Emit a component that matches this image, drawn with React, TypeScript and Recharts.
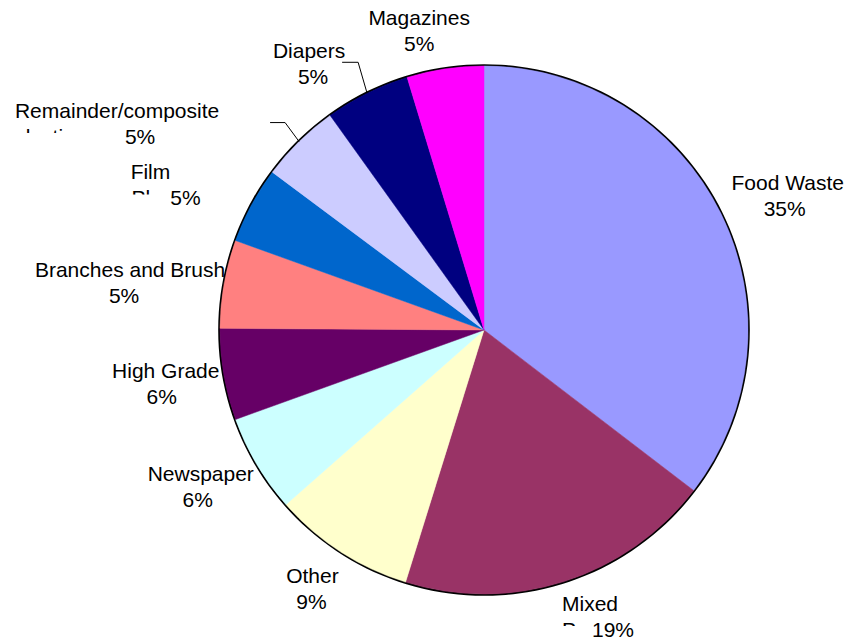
import { PieChart, Pie, Cell } from 'recharts'

const categories = [
    'Food Waste',
    'Mixed Paper',
    'Other',
    'Newspaper',
    'High Grade',
    'Branches and Brush',
    'Film Plastic',
    'Remainder/composite plastic',
    'Diapers',
    'Magazines',
]

const shares = [35.4, 19.4, 8.7, 6.0, 5.6, 5.4, 4.7, 4.9, 5.2, 4.7]

const colors = ['#9999FF', '#993366', '#FFFFCC', '#CCFFFF', '#660066', '#FF8080', '#0066CC', '#CCCCFF', '#000080', '#FF00FF']

const data = categories.map((name, i) => ({ name, value: shares[i] }))

// how each label is laid out, relative to the slice's outer edge midpoint
// first: visible first line, cut: line-2 text that shows only its top, pdx: % offset
const labelLayout = [
    { first: 'Food Waste', cut: '', dx: 67, dy: -30, pdx: -3, cdx: 0, leader: null },
    { first: 'Mixed', cut: 'P', dx: 26, dy: 22, pdx: 23, cdx: -28, leader: null },
    { first: 'Other', cut: '', dx: -28, dy: 24, pdx: -1, cdx: 0, leader: null },
    { first: 'Newspaper', cut: '', dx: -56, dy: 9, pdx: -3, cdx: 0, leader: null },
    { first: 'High Grade', cut: '', dx: -58, dy: -4, pdx: -4, cdx: 0, leader: null },
    { first: 'Branches and Brush', cut: '', dx: -94, dy: -14, pdx: -6, cdx: 0, leader: null },
    { first: 'Film', cut: 'Pl', dx: -101, dy: -33, pdx: 35, cdx: -19, leader: null },
    { first: 'Remainder/composite', cut: 'plastic', dx: -182, dy: -31, pdx: 23, cdx: -103, leader: [[-14, -19], [-29, -19]] },
    { first: 'Diapers', cut: '', dx: -58, dy: -43, pdx: 4, cdx: 0, leader: [[-9, -31], [-25, -31]] },
    { first: 'Magazines', cut: '', dx: -26, dy: -51, pdx: 0, cdx: 0, leader: null },
]

const RAD = Math.PI / 180
const FONT = '"Liberation Sans", Arial, sans-serif'
const SIZE = 21
const LINE = 26

const renderLabel = (props: any) => {
    const { cx, cy, midAngle, outerRadius, index, percent } = props
    const px = cx + outerRadius * Math.cos(-midAngle * RAD)
    const py = cy + outerRadius * Math.sin(-midAngle * RAD)
    const l = labelLayout[index]
    const x = px + l.dx
    const y = py + l.dy
    const pct = Math.round(percent * 100) + '%'
    const clipId = `cut-${index}`
    return (
        <g key={`lbl-${index}`}>
            {l.leader && (
                <polyline
                    points={[[px, py], ...l.leader.map(([a, b]) => [px + a, py + b])].map(p => p.join(',')).join(' ')}
                    fill="none"
                    stroke="#000"
                    strokeWidth={1}
                />
            )}
            <text x={x} y={y} dy="0.35em" textAnchor="middle" fontSize={SIZE} fontFamily={FONT} fill="#000">
                {l.first}
            </text>
            {l.cut && (
                <>
                    <clipPath id={clipId}>
                        <rect x={x + l.cdx - 5} y={y + LINE - 8.2} width={90} height={4.6} />
                    </clipPath>
                    <text x={x + l.cdx} y={y + LINE} dy="0.35em" textAnchor="start" fontSize={SIZE} fontFamily={FONT} fill="#000" clipPath={`url(#${clipId})`}>
                        {l.cut}
                    </text>
                </>
            )}
            <text x={x + l.pdx} y={y + LINE} dy="0.35em" textAnchor="middle" fontSize={SIZE} fontFamily={FONT} fill="#000">
                {pct}
            </text>
        </g>
    )
}

export default function App() {
    return (
        <div style={{ position: 'absolute', left: 0, top: 0, width: 851, height: 640, background: '#fff' }}>
            <PieChart width={851} height={640} margin={{ top: 0, right: 0, bottom: 0, left: 0 }}>
                <Pie
                    data={[{ name: 'rim', value: 1 }]}
                    dataKey="value"
                    cx={484}
                    cy={330}
                    innerRadius={263.5}
                    outerRadius={265.8}
                    startAngle={90}
                    endAngle={-270}
                    fill="#000"
                    stroke="none"
                    isAnimationActive={false}
                />
                <Pie
                    data={data}
                    dataKey="value"
                    nameKey="name"
                    cx={484}
                    cy={330}
                    outerRadius={264}
                    startAngle={90}
                    endAngle={-270}
                    label={renderLabel}
                    labelLine={false}
                    isAnimationActive={false}
                >
                    {data.map((entry, index) => (
                        <Cell key={`cell-${index}`} fill={colors[index]} stroke={colors[index]} strokeWidth={0.5} />
                    ))}
                </Pie>
            </PieChart>
        </div>
    )
}
